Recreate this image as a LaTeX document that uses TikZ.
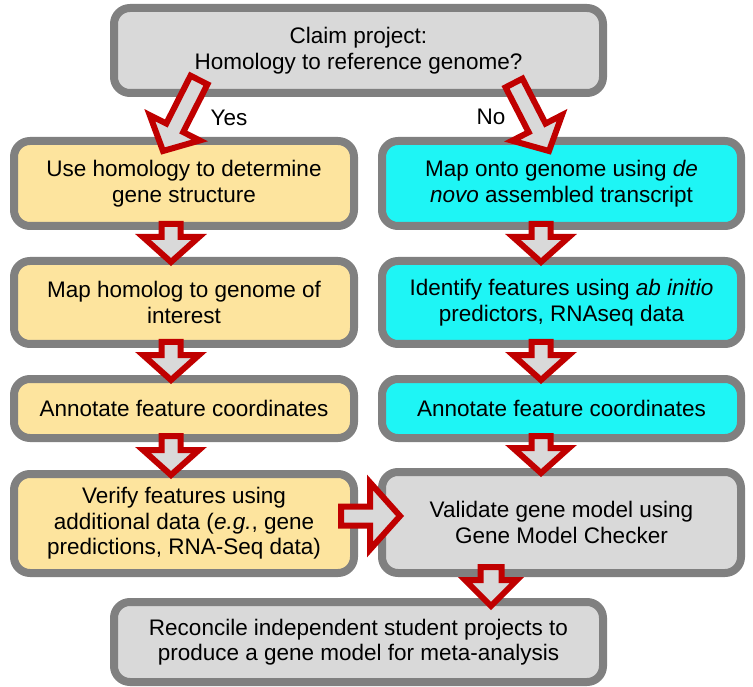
\documentclass[tikz,border=0pt]{standalone}
\usepackage{fontspec}
\setmainfont{Liberation Sans}
\usetikzlibrary{calc}
\definecolor{boxgray}{RGB}{217,217,217}
\definecolor{bordergray}{RGB}{128,128,128}
\definecolor{boxyellow}{RGB}{253,228,158}
\definecolor{boxcyan}{RGB}{30,245,245}
\definecolor{arrowred}{RGB}{192,0,0}
\definecolor{arrowfill}{RGB}{217,217,217}
\newcommand\blkarrow[5]{%
  \coordinate (ba-S) at #1;
  \coordinate (ba-E) at #2;
  \coordinate (ba-H) at ($(ba-E)!#5!(ba-S)$);
  \draw[blockarrow] ($(ba-S)!#3!90:(ba-E)$) -- ($(ba-H)!#3!90:(ba-E)$) -- ($(ba-H)!#4!90:(ba-E)$) -- (ba-E) -- ($(ba-H)!#4!-90:(ba-E)$) -- ($(ba-H)!#3!-90:(ba-E)$) -- ($(ba-S)!#3!-90:(ba-E)$) -- cycle;}
\tikzset{
  box/.style={rectangle, rounded corners=16pt, draw=bordergray, line width=8pt,
    inner sep=0pt, align=center, font=\fontsize{22.5}{25.5}\selectfont},
  graybox/.style={box, fill=boxgray},
  yelbox/.style={box, fill=boxyellow},
  cyanbox/.style={box, fill=boxcyan},
  blockarrow/.style={draw=arrowred, fill=arrowfill, line width=6pt, line join=miter},
  lbl/.style={font=\fontsize{22.5}{25.5}\selectfont, inner sep=0pt}
}
\begin{document}
\begin{tikzpicture}[x=1pt,y=-1pt]
\fill[white] (0,0) rectangle (753,687);
\useasboundingbox (0,0) rectangle (753,687);
% boxes
\node[graybox, minimum width=489, minimum height=85] (top) at (358.5,50.5) {Claim project:\\Homology to reference genome?};
\node[yelbox, minimum width=340, minimum height=85] (l1) at (184,183.5) {Use homology to determine\\gene structure};
\node[cyanbox, minimum width=359, minimum height=85] (r1) at (561.5,183.5) {Map onto genome using \textit{de}\\\textit{novo} assembled transcript};
\node[yelbox, minimum width=340, minimum height=83] (l2) at (184,302.5) {Map homolog to genome of\\interest};
\node[cyanbox, minimum width=359, minimum height=83] (r2) at (561.5,302.5) {Identify features using \textit{ab initio}\\predictors, RNAseq data};
\node[yelbox, minimum width=340, minimum height=59] (l3) at (184,408.5) {Annotate feature coordinates};
\node[cyanbox, minimum width=359, minimum height=59] (r3) at (561.5,408.5) {Annotate feature coordinates};
\node[yelbox, minimum width=340, minimum height=99] (l4) at (184,523.5) {Verify features using\\additional data (\textit{e.g.}, gene\\predictions, RNA-Seq data)};
\node[graybox, minimum width=359, minimum height=101] (r4) at (561.5,522.5) {Validate gene model using\\Gene Model Checker};
\node[graybox, minimum width=489, minimum height=80] (bot) at (358.5,642) {Reconcile independent student projects to\\produce a gene model for meta-analysis};
% labels
\node[lbl] (yes) at (229,118) {Yes};
\node[lbl] (no) at (491,117) {No};
% column guides
\coordinate (colL) at (171,0);
\coordinate (colR) at (541,0);
\coordinate (colB) at (491,0);
\coordinate (rowH) at (0,516);
% arrows
\coordinate (yesS) at (199,80);
\coordinate (yesE) at (163,151);
\coordinate (noS) at (514,83);
\coordinate (noE) at (549,151);
\blkarrow{(yesS)}{(yesE)}{9.5pt}{28pt}{26pt}
\blkarrow{(noS)}{(noE)}{9.5pt}{28pt}{26pt}
\blkarrow{($(l1.south -| colL)+(0,-6)$)}{($(l2.north -| colL)+(0,5)$)}{9.5pt}{28pt}{25pt}
\blkarrow{($(l2.south -| colL)+(0,-6)$)}{($(l3.north -| colL)+(0,5)$)}{9.5pt}{28pt}{25pt}
\blkarrow{($(l3.south -| colL)+(0,-6)$)}{($(l4.north -| colL)+(0,5)$)}{9.5pt}{28pt}{25pt}
\blkarrow{($(r1.south -| colR)+(0,-6)$)}{($(r2.north -| colR)+(0,5)$)}{9.5pt}{28pt}{25pt}
\blkarrow{($(r2.south -| colR)+(0,-6)$)}{($(r3.north -| colR)+(0,5)$)}{9.5pt}{28pt}{25pt}
\blkarrow{($(r3.south -| colR)+(0,-6)$)}{($(r4.north -| colR)+(0,5)$)}{9.5pt}{28pt}{25pt}
\blkarrow{($(r4.south -| colB)+(0,-10)$)}{($(bot.north -| colB)+(0,8)$)}{10.5pt}{26pt}{26pt}
\blkarrow{($(l4.east |- rowH)+(-17,0)$)}{($(r4.west |- rowH)+(22,0)$)}{9.5pt}{33.5pt}{30pt}
\end{tikzpicture}
\end{document}
